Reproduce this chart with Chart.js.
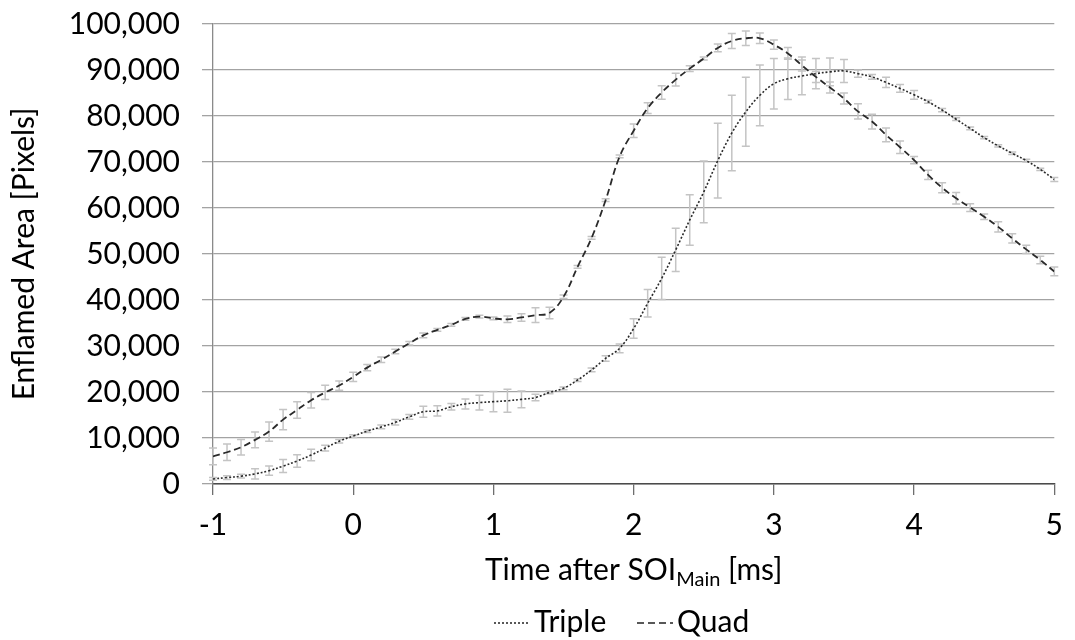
<!DOCTYPE html>
<html>
<head>
<meta charset="utf-8">
<script src="https://cdn.jsdelivr.net/npm/chart.js@4.4.1/dist/chart.umd.min.js"></script>
<style>
  html, body { margin: 0; padding: 0; background: #fff; }
  #wrap { width: 1075px; height: 640px; }
</style>
</head>
<body>
<div id="wrap"><canvas id="c" width="1075" height="640"></canvas></div>
<script>
// time after SOI main [ms]
const times = [
  -1.0, -0.9, -0.8, -0.7, -0.6, -0.5, -0.4, -0.3, -0.2, -0.1,
  0.0, 0.1, 0.2, 0.3, 0.4, 0.5, 0.6, 0.7, 0.8, 0.9,
  1.0, 1.1, 1.2, 1.3, 1.4, 1.5, 1.6, 1.7, 1.8, 1.9,
  2.0, 2.1, 2.2, 2.3, 2.4, 2.5, 2.6, 2.7, 2.8, 2.9,
  3.0, 3.1, 3.2, 3.3, 3.4, 3.5, 3.6, 3.7, 3.8, 3.9,
  4.0, 4.1, 4.2, 4.3, 4.4, 4.5, 4.6, 4.7, 4.8, 4.9,
  5.0
];

const triple = [
  1100, 1400, 1700, 2200, 2900, 3900, 5000, 6300, 7800, 9300,
  10400, 11500, 12400, 13400, 14600, 15700, 15900, 16800, 17400, 17700,
  17900, 18100, 18400, 18800, 19900, 20800, 22600, 24800, 27300, 29500,
  33800, 39300, 44700, 50900, 57400, 63500, 70300, 76300, 80900, 84500,
  87000, 88100, 88700, 89200, 89600, 89800, 89200, 88500, 87300, 86000,
  84600, 83100, 81300, 79300, 77300, 75300, 73500, 71900, 70300, 68400,
  66200
];
const tripleErr = [
  300, 400, 400, 1100, 1000, 1400, 1350, 1250, 600, 400,
  300, 300, 400, 600, 500, 1200, 1100, 700, 1100, 1600,
  2200, 2500, 1800, 700, 300, 300, 300, 400, 600, 950,
  2100, 3000, 4600, 4700, 5500, 6700, 8150, 8200, 7500, 6600,
  5500, 4500, 4100, 3300, 3000, 2500, 800, 500, 1100, 850,
  950, 350, 350, 300, 300, 250, 250, 250, 300, 250,
  450
];

const quad = [
  6000, 6900, 8000, 9600, 11400, 14000, 16100, 18200, 19900, 21400,
  23300, 25300, 27000, 28800, 30600, 32300, 33500, 34600, 35900, 36400,
  36000, 35800, 36200, 36700, 37200, 40700, 47200, 53500, 61700, 71200,
  76800, 81700, 85100, 87900, 90300, 92500, 94800, 96300, 96900, 96900,
  95500, 93600, 91000, 88500, 86200, 83800, 81000, 78800, 75900, 73200,
  70400, 67200, 64400, 62100, 60100, 58100, 55900, 53400, 51000, 48700,
  46200
];
const quadErr = [
  1800, 1800, 1700, 1700, 2100, 2200, 1800, 1700, 1550, 1000,
  1000, 700, 600, 500, 400, 500, 300, 300, 300, 300,
  300, 700, 830, 1600, 1250, 400, 300, 300, 300, 300,
  1450, 1160, 1450, 1380, 620, 300, 830, 1630, 1560, 1160,
  1000, 1270, 1200, 1200, 1200, 1200, 1650, 1600, 1500, 1350,
  800, 1000, 1100, 1250, 850, 600, 1100, 1000, 900, 800,
  950
];

const seriesNames = ['Triple', 'Quad'];
const xTicks = [-1, 0, 1, 2, 3, 4, 5];
const yMax = 100000;
const yStep = 10000;

const FONT = 'Lato';
const FS = 30;
Chart.defaults.font.family = FONT;
Chart.defaults.font.size = FS;
Chart.defaults.color = '#000';

const pts = vals => vals.map((v, i) => ({ x: times[i], y: v }));
const errs = [tripleErr, quadErr];

const errorBars = {
  id: 'errorBars',
  beforeDatasetsDraw(chart) {
    const { ctx, scales: { x, y } } = chart;
    ctx.save();
    ctx.strokeStyle = '#c4c4c4';
    ctx.lineWidth = 1.5;
    chart.data.datasets.forEach((ds, i) => {
      ds.data.forEach((p, j) => {
        const e = errs[i][j];
        const px = x.getPixelForValue(p.x);
        const y1 = y.getPixelForValue(p.y + e);
        const y2 = y.getPixelForValue(p.y - e);
        ctx.beginPath();
        ctx.moveTo(px, y1); ctx.lineTo(px, y2);
        ctx.moveTo(px - 4, y1); ctx.lineTo(px + 4, y1);
        ctx.moveTo(px - 4, y2); ctx.lineTo(px + 4, y2);
        ctx.stroke();
      });
    });
    ctx.restore();
  }
};

// x title with subscript, and the legend below it
const extras = {
  id: 'extras',
  afterDraw(chart) {
    const { ctx, chartArea } = chart;
    ctx.save();
    ctx.fillStyle = '#000';
    ctx.textBaseline = 'alphabetic';
    const big = FS + 'px ' + FONT;
    const small = Math.round(FS * 0.65) + 'px ' + FONT;
    const a = 'Time after SOI', sub = 'Main', b = ' [ms]';
    ctx.font = big;
    const wa = ctx.measureText(a).width, wb = ctx.measureText(b).width;
    ctx.font = small;
    const ws = ctx.measureText(sub).width;
    let x0 = (chartArea.left + chartArea.right) / 2 - (wa + ws + wb) / 2;
    const base = 580;
    ctx.textAlign = 'left';
    ctx.font = big; ctx.fillText(a, x0, base);
    ctx.font = small; ctx.fillText(sub, x0 + wa, base + 6);
    ctx.font = big; ctx.fillText(b, x0 + wa + ws, base);

    // legend
    const ly = 623;
    const lb = 632;
    const styles = [[2, 2], [7, 4]];
    const starts = [494, 637];
    ctx.lineWidth = 1.5;
    ctx.strokeStyle = '#222';
    seriesNames.forEach((n, i) => {
      ctx.setLineDash(styles[i]);
      ctx.beginPath();
      ctx.moveTo(starts[i], ly); ctx.lineTo(starts[i] + 36, ly);
      ctx.stroke();
      ctx.setLineDash([]);
      ctx.font = big;
      ctx.fillText(n, starts[i] + 40, lb);
    });
    ctx.restore();
  }
};

new Chart(document.getElementById('c'), {
  type: 'line',
  data: {
    datasets: [
      {
        label: seriesNames[0],
        data: pts(triple),
        borderColor: '#2a2a2a',
        borderWidth: 1.6,
        borderDash: [2, 2],
        pointRadius: 0,
        tension: 0.4,
        fill: false
      },
      {
        label: seriesNames[1],
        data: pts(quad),
        borderColor: '#2a2a2a',
        borderWidth: 1.8,
        borderDash: [7, 4],
        pointRadius: 0,
        tension: 0.4,
        fill: false
      }
    ]
  },
  options: {
    responsive: false,
    animation: false,
    devicePixelRatio: 1,
    layout: { padding: { top: 24, right: 16, bottom: 0, left: 0 } },
    plugins: { legend: { display: false }, tooltip: { enabled: false } },
    scales: {
      x: {
        type: 'linear',
        min: xTicks[0],
        max: xTicks[xTicks.length - 1],
        afterBuildTicks: s => { s.ticks = xTicks.map(v => ({ value: v })); },
        afterFit: s => { s.height = 156; },
        grid: { drawOnChartArea: false, drawTicks: true, tickLength: 11, color: '#6e6e6e', lineWidth: 1.3 },
        border: { display: true, color: '#4a4a4a', width: 1.5 },
        ticks: { padding: 12, maxRotation: 0, color: '#000' }
      },
      y: {
        min: 0,
        max: yMax,
        afterFit: s => { s.width = 213; s.paddingTop = 0; s.paddingBottom = 0; },
        ticks: { stepSize: yStep, padding: 22, color: '#000' },
        grid: { color: '#a3a3a3', lineWidth: 1.3, tickLength: 11 },
        border: { display: true, color: '#8a8a8a', width: 1.3 },
        title: { display: true, text: 'Enflamed Area [Pixels]', padding: { top: 6, bottom: 0 }, color: '#000', font: { size: FS } }
      }
    }
  },
  plugins: [errorBars, extras]
});
</script>
</body>
</html>
